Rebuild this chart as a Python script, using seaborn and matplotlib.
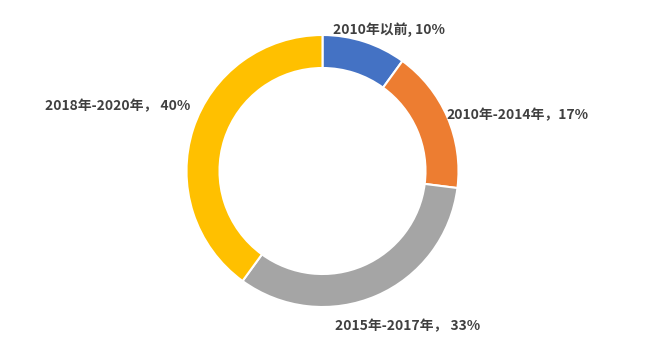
import matplotlib
matplotlib.use("Agg")
import matplotlib.pyplot as plt
import seaborn as sns

# data
periods = ["2010年以前", "2010年-2014年", "2015年-2017年", "2018年-2020年"]
shares = [10, 17, 33, 40]
label_texts = ["2010年以前, 10%", "2010年-2014年，17%", "2015年-2017年， 33%", "2018年-2020年， 40%"]
colors = ["#4472C4", "#ED7D31", "#A5A5A5", "#FFC000"]

sns.set_theme(style="white")
plt.rcParams['font.family'] = ['Noto Sans CJK SC', 'DejaVu Sans']

fig = plt.figure(figsize=(6.55, 3.55), dpi=100)
ax = fig.add_axes([0, 0, 1, 1])

ax.pie(shares, colors=colors, startangle=90, counterclock=False,
       center=(322.5, 184), radius=136,
       wedgeprops=dict(width=33, edgecolor="white", linewidth=1.5))

ax.set_xlim(0, 655)
ax.set_ylim(0, 355)
ax.set_aspect("equal")
ax.axis("off")

# label positions (pixel coords, top-left origin)
label_pos = [(333, 30, "left"), (446, 115, "left"), (335, 326, "left"), (190, 106, "right")]
for txt, (x, y, ha) in zip(label_texts, label_pos):
    ax.text(x, 355 - y, txt, ha=ha, va="center", fontsize=10,
            fontweight="bold", color="#404040")

plt.savefig("out.png", dpi=100)
